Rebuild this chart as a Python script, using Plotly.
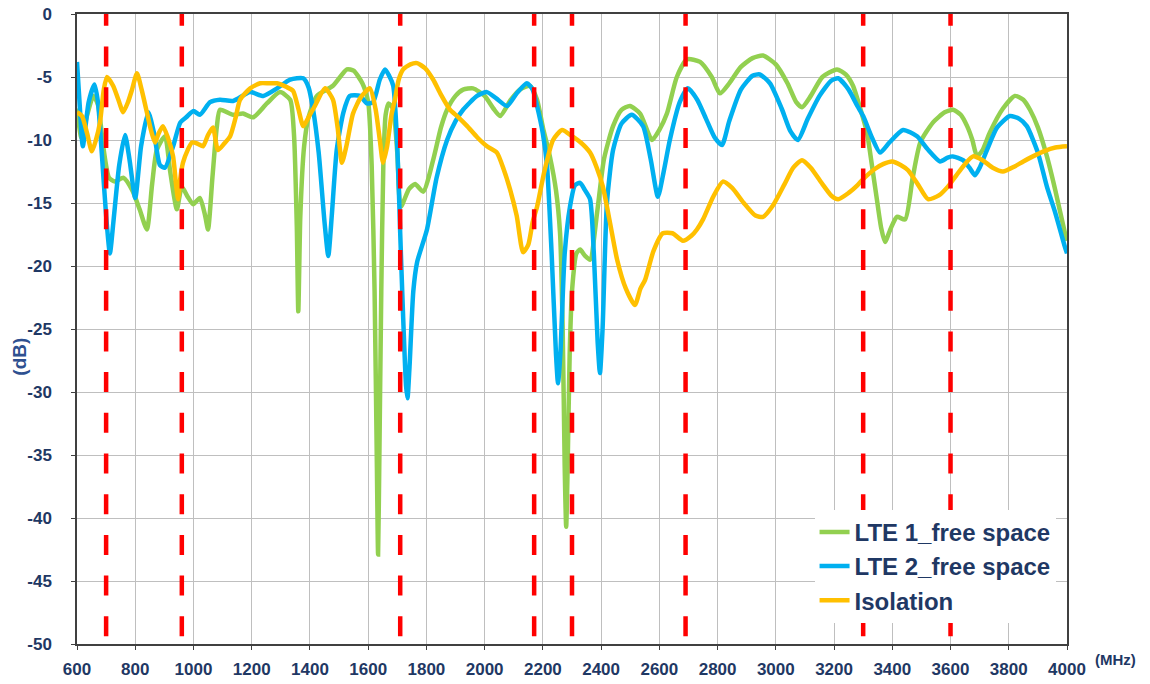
import plotly.graph_objects as go

# ---------------- data ----------------
lte1_f = [600, 615, 635, 656, 672, 690, 710, 730, 760, 790, 815, 840, 858, 874, 902, 920, 943, 960, 980, 999,
          1022, 1040, 1050, 1065, 1080, 1091, 1136, 1170, 1205, 1252, 1297, 1332, 1345, 1355, 1360, 1367, 1380,
          1395, 1424, 1479, 1527, 1550, 1580, 1600, 1612, 1622, 1630, 1634, 1638, 1645, 1652, 1660, 1670, 1685,
          1700, 1712, 1740, 1761, 1789, 1823, 1850, 1871, 1900, 1926, 1960, 2000, 2030, 2053, 2090, 2121, 2156,
          2180, 2200, 2224, 2245, 2259, 2268, 2275, 2280, 2285, 2292, 2300, 2315, 2328, 2345, 2362, 2386, 2410,
          2441, 2470, 2499, 2534, 2575, 2600, 2626, 2660, 2695, 2740, 2780, 2808, 2840, 2880, 2920, 2956, 3000,
          3040, 3070, 3090, 3120, 3160, 3210, 3240, 3265, 3290, 3313, 3330, 3347, 3362, 3375, 3395, 3416, 3444,
          3470, 3496, 3540, 3580, 3609, 3635, 3657, 3675, 3691, 3710, 3735, 3780, 3821, 3850, 3873, 3900, 3931,
          3960, 3993, 4000]
lte1_db = [-7.5, -9.8, -8.0, -6.5, -7.2, -10.5, -13.0, -13.3, -13.0, -14.0, -15.5, -17.1, -13.5, -10.8, -9.7,
           -12.5, -15.5, -13.7, -14.5, -15.1, -14.6, -16.0, -17.1, -13.0, -9.0, -7.6, -8.0, -7.9, -8.2, -7.1, -6.2,
           -6.8, -9.5, -17.0, -23.6, -16.0, -10.5, -8.2, -6.5, -5.7, -4.4, -4.5, -5.5, -7.0, -12.0, -22.0, -36.0,
           -42.9, -36.0, -22.0, -12.0, -8.0, -7.1, -7.5, -11.0, -15.3, -13.9, -13.5, -14.1, -11.6, -9.0, -7.6,
           -6.5, -6.0, -5.9, -6.5, -7.5, -8.1, -6.8, -6.0, -5.7, -6.8, -9.0, -11.3, -14.0, -17.4, -25.0, -36.0,
           -40.7, -36.0, -27.0, -22.0, -19.0, -18.7, -19.2, -19.5, -15.8, -11.5, -8.9, -7.6, -7.3, -7.9, -10.0,
           -9.2, -7.9, -5.0, -3.6, -3.8, -5.0, -6.3, -5.5, -4.2, -3.5, -3.3, -4.0, -5.5, -7.0, -7.4, -6.5, -5.0,
           -4.4, -4.8, -5.7, -7.5, -9.4, -12.0, -14.7, -17.0, -18.1, -17.0, -16.1, -16.3, -13.0, -10.2, -8.6,
           -7.8, -7.6, -8.0, -8.9, -10.0, -11.3, -10.8, -9.4, -7.5, -6.5, -6.8, -7.6, -9.0, -11.3, -14.0, -17.4,
           -18.0]

lte2_f = [600, 610, 620, 640, 660, 672, 685, 700, 713, 725, 745, 765, 780, 800, 820, 845, 865, 885, 902, 930,
          955, 975, 1000, 1022, 1057, 1091, 1136, 1194, 1240, 1287, 1332, 1377, 1395, 1411, 1430, 1450, 1463,
          1475, 1492, 1515, 1537, 1572, 1596, 1617, 1640, 1658, 1672, 1686, 1700, 1710, 1720, 1730, 1735, 1742,
          1755, 1768, 1802, 1835, 1871, 1900, 1926, 1974, 2008, 2040, 2077, 2110, 2145, 2165, 2180, 2200, 2214,
          2230, 2245, 2252, 2260, 2275, 2293, 2310, 2328, 2345, 2362, 2375, 2388, 2396, 2405, 2420, 2441, 2470,
          2505, 2544, 2570, 2595, 2615, 2636, 2670, 2698, 2730, 2760, 2790, 2815, 2840, 2880, 2920, 2945, 2980,
          3020, 3050, 3076, 3110, 3150, 3190, 3214, 3250, 3280, 3300, 3330, 3358, 3390, 3437, 3485, 3520, 3564,
          3590, 3608, 3643, 3665, 3684, 3700, 3725, 3760, 3804, 3835, 3862, 3900, 3931, 3960, 3993, 4000]
lte2_db = [-3.8, -7.5, -10.5, -7.0, -5.6, -7.0, -11.0, -16.0, -19.0, -16.5, -12.0, -9.6, -11.5, -14.6, -10.5,
           -7.8, -9.5, -12.0, -12.2, -10.5, -8.6, -8.2, -7.7, -8.0, -7.0, -6.8, -6.9, -6.2, -6.5, -5.9, -5.2, -5.1,
           -5.8, -7.6, -11.0, -16.5, -19.2, -16.0, -10.8, -7.8, -6.5, -6.5, -7.1, -7.0, -5.2, -4.4, -4.9, -5.7,
           -10.5, -17.4, -24.0, -29.5, -30.5, -28.0, -22.0, -19.7, -17.1, -13.0, -10.0, -8.5, -7.6, -6.5, -6.2,
           -6.7, -7.3, -6.3, -5.5, -6.0, -7.3, -9.5, -12.0, -19.0, -27.0, -29.3, -27.0, -19.0, -15.3, -13.6, -13.4,
           -14.0, -14.7, -19.0, -26.0, -28.5, -25.0, -15.0, -10.8, -8.7, -8.0, -8.9, -11.5, -14.5, -12.5, -10.0,
           -7.0, -5.9, -6.8, -8.3, -9.8, -10.4, -8.5, -6.0, -4.9, -4.8, -5.5, -7.5, -9.3, -10.0, -8.3, -6.5, -5.3,
           -5.1, -6.0, -7.3, -8.1, -9.8, -11.0, -10.2, -9.2, -9.7, -10.7, -11.7, -11.4, -11.3, -11.6, -12.2, -12.8,
           -12.2, -10.8, -9.0, -8.1, -8.3, -8.9, -11.0, -13.7, -15.8, -18.5, -19.0]

iso_f = [600, 617, 635, 651, 665, 679, 692, 703, 724, 745, 758, 775, 789, 806, 822, 840, 855, 868, 880, 895, 912,
         930, 940, 947, 955, 964, 980, 995, 1015, 1033, 1050, 1067, 1084, 1105, 1126, 1145, 1160, 1195, 1229, 1260,
         1287, 1320, 1342, 1360, 1377, 1395, 1417, 1452, 1479, 1495, 1510, 1525, 1548, 1575, 1606, 1625, 1640,
         1651, 1665, 1680, 1692, 1705, 1720, 1745, 1768, 1795, 1823, 1850, 1881, 1910, 1940, 1975, 2008, 2042,
         2065, 2087, 2110, 2132, 2150, 2165, 2180, 2205, 2235, 2266, 2300, 2330, 2362, 2385, 2406, 2430, 2455,
         2485, 2516, 2535, 2551, 2580, 2612, 2645, 2681, 2710, 2729, 2750, 2785, 2818, 2850, 2890, 2930, 2956,
         2990, 3030, 3060, 3090, 3120, 3160, 3190, 3214, 3250, 3280, 3300, 3340, 3370, 3399, 3430, 3454, 3490,
         3523, 3560, 3591, 3620, 3650, 3677, 3710, 3745, 3780, 3820, 3850, 3883, 3920, 3960, 4000]
iso_db = [-7.8, -8.1, -9.5, -10.9, -10.0, -8.6, -6.0, -5.0, -5.7, -7.0, -7.8, -7.0, -6.0, -4.7, -6.0, -7.8, -9.3,
          -10.2, -9.5, -8.9, -9.8, -11.3, -13.5, -14.7, -13.0, -11.8, -10.8, -10.2, -10.3, -10.5, -9.6, -9.0,
          -10.8, -10.3, -9.7, -8.2, -6.8, -5.9, -5.5, -5.5, -5.5, -5.8, -6.1, -7.5, -8.9, -8.2, -7.3, -5.9, -6.8,
          -9.0, -11.8, -10.5, -7.9, -6.6, -5.9, -7.5, -10.0, -11.8, -10.5, -8.0, -6.8, -5.2, -4.4, -4.0, -3.9,
          -4.3, -5.2, -6.4, -7.6, -8.2, -8.9, -9.8, -10.5, -11.0, -12.3, -13.9, -16.0, -18.9, -18.3, -16.5,
          -15.3, -12.5, -10.0, -9.2, -9.7, -10.2, -11.0, -12.2, -13.7, -16.5, -19.5, -21.8, -23.1, -21.8, -21.1,
          -18.8, -17.4, -17.4, -18.0, -17.6, -17.1, -16.3, -14.5, -13.3, -13.8, -15.0, -16.0, -16.1, -15.2, -13.5,
          -12.2, -11.6, -12.2, -13.5, -14.4, -14.7, -14.2, -13.6, -13.1, -12.3, -11.9, -11.7, -12.0, -12.4, -13.6,
          -14.7, -14.4, -13.7, -12.8, -11.9, -11.3, -11.6, -12.2, -12.5, -12.1, -11.7, -11.3, -10.9, -10.6, -10.5]

band_edges_mhz = [700, 960, 1710, 2170, 2300, 2690, 3300, 3600]

x_ticks = list(range(600, 4001, 200))
y_ticks = list(range(0, -51, -5))

series = [
    ("LTE 1_free space", lte1_f, lte1_db, "#92D050"),
    ("LTE 2_free space", lte2_f, lte2_db, "#00B0F0"),
    ("Isolation", iso_f, iso_db, "#FFC000"),
]

# ---------------- figure ----------------
FONT = "Liberation Sans, Arial, sans-serif"
NAVY = "#1F3864"

fig = go.Figure()
for name, f, db, col in series:
    fig.add_trace(go.Scatter(x=f, y=db, mode="lines", name=name,
                             line=dict(color=col, width=4.5, shape="spline", smoothing=0.6)))

for fb in band_edges_mhz:
    fig.add_shape(type="line", xref="x", yref="y", x0=fb, x1=fb, y0=0.65, y1=-50,
                  line=dict(color="#FF0000", width=4.5, dash="20px,20.7px"), layer="above")

fig.update_layout(
    width=1150, height=684,
    margin=dict(l=77, r=83, t=14, b=40),
    paper_bgcolor="white", plot_bgcolor="white",
    font=dict(family=FONT, color=NAVY),
    showlegend=True,
    legend=dict(x=0.745, y=0.213, xanchor="left", yanchor="top", bgcolor="white",
                font=dict(family=FONT, size=24, color=NAVY, weight="bold"),
                tracegroupgap=0, itemwidth=30),
    xaxis=dict(range=[600, 4000], tickvals=x_ticks, ticktext=[str(v) for v in x_ticks],
               automargin=False, ticklabeloverflow="allow",
               showgrid=True, gridcolor="#BFBFBF", gridwidth=1,
               showline=True, linecolor="#404040", linewidth=1.5, mirror=True,
               ticks="outside", ticklen=4, tickcolor="#404040",
               ticklabelstandoff=5,
               tickfont=dict(family=FONT, size=17, color=NAVY, weight="bold"),
               zeroline=False),
    yaxis=dict(range=[-50, 0], tickvals=y_ticks, ticktext=[str(v) for v in y_ticks],
               automargin=False, ticklabeloverflow="allow",
               showgrid=True, gridcolor="#BFBFBF", gridwidth=1,
               showline=True, linecolor="#404040", linewidth=1.5, mirror=True,
               ticks="outside", ticklen=4, tickcolor="#404040",
               ticklabelstandoff=16,
               tickfont=dict(family=FONT, size=17, color=NAVY, weight="bold"),
               zeroline=False),
)

fig.add_annotation(text="(MHz)", xref="paper", yref="paper", x=1.0485, y=-0.025,
                   xanchor="center", yanchor="middle", showarrow=False,
                   font=dict(family=FONT, size=15, color=NAVY, weight="bold"))
fig.add_annotation(text="(dB)", xref="paper", yref="paper", x=-0.0576, y=0.456,
                   xanchor="center", yanchor="middle", showarrow=False, textangle=-90,
                   font=dict(family=FONT, size=19, color="#2E5090", weight="bold"))

# remove the default 8px page margin so the figure fills the window exactly
fig.write_html("out.html", config={"displayModeBar": False},
               post_script="document.body.style.margin='0';document.body.style.overflow='hidden';")
